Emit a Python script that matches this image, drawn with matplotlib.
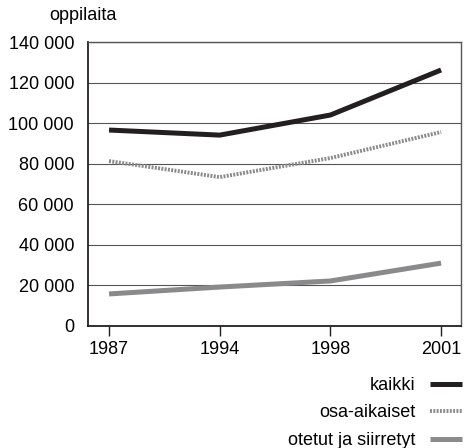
import matplotlib
matplotlib.use("Agg")
import matplotlib.pyplot as plt
from matplotlib.ticker import FuncFormatter

plt.rcParams['font.family'] = ['Liberation Sans', 'DejaVu Sans']

# data
vuodet = ['1987', '1994', '1998', '2001']
kaikki = [96600, 94100, 104000, 126200]
osa_aikaiset = [81300, 73400, 82800, 95600]
otetut = [15800, 19200, 22200, 31000]
y_ticks = [0, 20000, 40000, 60000, 80000, 100000, 120000, 140000]

fig = plt.figure(figsize=(4.67, 4.48), dpi=100)
ax = fig.add_axes([88 / 467, 1 - 326 / 448, (461 - 88) / 467, (326 - 42) / 448])

x = range(len(vuodet))
ax.plot(x, kaikki, color='#231f20', lw=3.6, solid_capstyle='butt', label='kaikki', zorder=3)
ax.plot(x, osa_aikaiset, color='#8a8a8c', lw=2.8, ls=(0, (0.5, 0.35)),
        label='osa-aikaiset', zorder=3)
ax.plot(x, otetut, color='#8a8a8c', lw=3.6, solid_capstyle='butt',
        label='otetut ja siirretyt', zorder=3)

ax.set_xlim(-0.19, 3.18)
ax.set_ylim(0, 140000)
ax.set_xticks(list(x))
ax.set_xticklabels(vuodet)
ax.set_yticks(y_ticks)
ax.yaxis.set_major_formatter(FuncFormatter(lambda v, p: f"{int(v):,}".replace(',', ' ')))
ax.tick_params(axis='y', length=0, labelsize=13, pad=10)
ax.tick_params(axis='x', length=7, width=1, labelsize=13, direction='out', color='#231f20', pad=4)
ax.grid(axis='y', color='#555555', lw=0.8)
ax.set_axisbelow(True)

for s in ['left', 'bottom']:
    ax.spines[s].set_color('#231f20')
    ax.spines[s].set_linewidth(1.3)
for s in ['top', 'right']:
    ax.spines[s].set_color('#555555')
    ax.spines[s].set_linewidth(1.0)

fig.text(49 / 467, 1 - 16 / 448, 'oppilaita', fontsize=13, va='center', ha='left')

leg = fig.legend(loc='upper right', bbox_to_anchor=(462 / 467, 1 - 377 / 448),
                 frameon=False, markerfirst=False, fontsize=13, handlelength=1.75,
                 handletextpad=0.85, labelspacing=0.58, borderaxespad=0, borderpad=0)
for t in leg.get_texts():
    t.set_ha('right')

fig.savefig('out.png', dpi=100)
